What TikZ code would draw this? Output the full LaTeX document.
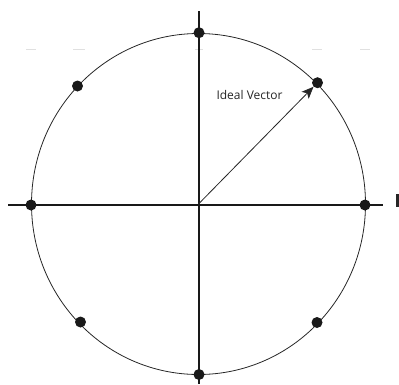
\documentclass[tikz,border=0pt]{standalone}
\usepackage{fontspec}
\setmainfont{Open Sans}
\usetikzlibrary{arrows.meta}
\begin{document}
\begin{tikzpicture}[x=1pt,y=-1pt,
  axis/.style={line width=2pt,black!90},
  dotnode/.style={circle,fill=black!90,inner sep=0pt,minimum size=11pt},
  faint/.style={line width=1pt,black!12}]
\useasboundingbox (0,0) rectangle (399,384);
\coordinate (c) at (198.5,204);
% faint dashes
\foreach \a/\b in {26/36,73/85,195/203,312/322,360/370}
  \draw[faint] (\a,49) -- (\b,49);
% circle (slightly elliptic)
\draw[line width=0.8pt,black!85] (c) ellipse [x radius=167, y radius=170.5];
% axes
\coordinate (vt) at (199,11);
\coordinate (vb) at (199,384);
\coordinate (hl) at (8,204.5);
\coordinate (hr) at (383,204.5);
\draw[axis] (vt) -- (vb);
\draw[axis] (hl) -- (hr);
% dots
\node[dotnode] (n) at (199,32.7) {};
\node[dotnode] (s) at (199,374.5) {};
\node[dotnode] (w) at (31,205) {};
\node[dotnode] (e) at (365,205) {};
\node[dotnode] (ne) at (317.5,82.7) {};
\node[dotnode] (nw) at (77.5,86) {};
\node[dotnode] (sw) at (80.5,322) {};
\node[dotnode] (se) at (317,322.5) {};
% ideal vector
\draw[line width=0.8pt,black!85,-{Stealth[length=12pt,width=10pt,inset=3pt]}] (c) -- (ne);
\node[font=\fontsize{12}{14}\selectfont,black!85] (lbl) at (249.5,95) {Ideal Vector};
% small bar at right edge
\fill[black!85] (395.5,194) rectangle (398.5,207);
\end{tikzpicture}
\end{document}
